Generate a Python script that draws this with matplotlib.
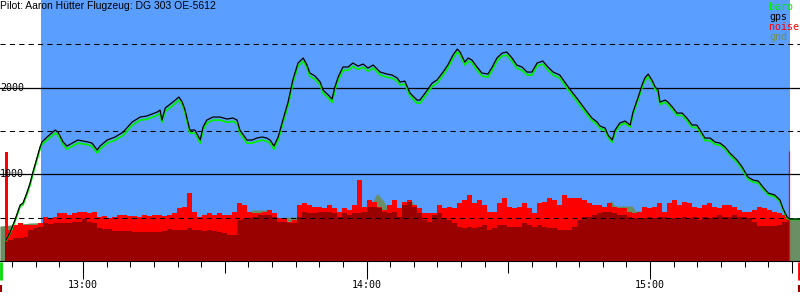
import numpy as np
import matplotlib
matplotlib.use("Agg")
from matplotlib import pyplot as plt
from matplotlib.ticker import MultipleLocator, FuncFormatter, NullFormatter
import matplotlib.transforms as mtransforms

title = "Pilot: Aaron Hütter Flugzeug: DG 303 OE-5612"

# alle Zeiten in Minuten nach 12:00
x_range = (42.43, 211.74)
alt_top = 3010
hour_marks = [60, 120, 180]

gps_t = [
    43.7, 44.6, 45.6, 46.7, 47.3, 48.1, 48.8, 49.4, 50.3, 50.9,
    51.3, 52.4, 54.1, 54.7, 55.8, 56.6, 58.9, 61.1, 61.9, 63.0,
    63.6, 65.1, 66.8, 68.5, 70.4, 72.1, 73.5, 75.7, 76.3, 76.7,
    77.4, 79.0, 80.3, 81.0, 81.6, 82.2, 82.6, 83.7, 84.8, 85.4,
    86.2, 87.5, 89.0, 90.5, 91.7, 92.6, 93.2, 94.7, 95.8, 96.8,
    97.9, 98.9, 99.6, 100.4, 101.3, 102.3, 103.4, 104.4, 105.5, 106.6,
    107.4, 108.0, 109.1, 110.2, 110.8, 111.9, 112.7, 113.3, 114.0, 115.0,
    116.1, 117.1, 118.2, 119.3, 120.3, 121.4, 122.9, 124.3, 125.4, 126.5,
    127.1, 128.1, 129.2, 130.7, 131.3, 132.4, 133.9, 134.9, 136.2, 137.2,
    138.3, 139.2, 139.8, 140.8, 141.5, 142.3, 143.4, 144.4, 145.7, 146.6,
    147.6, 148.7, 149.7, 150.8, 151.8, 152.9, 154.0, 155.0, 156.1, 157.3,
    158.4, 159.5, 160.9, 162.4, 163.5, 164.5, 165.6, 166.7, 167.7, 168.8,
    169.4, 170.5, 171.1, 172.0, 172.6, 173.6, 174.7, 175.8, 176.4, 177.5,
    178.3, 178.9, 179.6, 180.4, 181.1, 181.7, 182.1, 183.2, 183.8, 184.9,
    185.7, 186.8, 187.8, 188.9, 189.9, 190.6, 191.6, 192.7, 193.8, 194.8,
    195.9, 196.9, 198.4, 199.5, 200.7, 201.8, 202.9, 203.9, 205.0, 206.4,
    207.5, 208.1, 209.0, 209.6, 211.7,
]
gps_alt = [
    242, 334, 473, 646, 669, 784, 899, 1026, 1199, 1314,
    1372, 1430, 1510, 1487, 1372, 1326, 1395, 1372, 1360, 1280,
    1326, 1395, 1430, 1487, 1603, 1660, 1672, 1718, 1741, 1626,
    1764, 1833, 1891, 1833, 1741, 1603, 1510, 1510, 1395, 1545,
    1626, 1660, 1660, 1637, 1649, 1626, 1510, 1395, 1395, 1418,
    1430, 1418, 1395, 1326, 1430, 1626, 1833, 2087, 2283, 2341,
    2260, 2168, 2133, 2064, 1972, 1914, 1868, 2006, 2122, 2237,
    2237, 2283, 2248, 2271, 2225, 2260, 2179, 2156, 2145, 2110,
    2064, 2075, 1937, 1856, 1856, 1937, 2052, 2087, 2179, 2260,
    2375, 2444, 2410, 2294, 2341, 2318, 2237, 2168, 2156, 2237,
    2341, 2398, 2410, 2341, 2260, 2237, 2179, 2179, 2283, 2306,
    2237, 2179, 2145, 2029, 1949, 1879, 1799, 1718, 1649, 1603,
    1557, 1533, 1453, 1395, 1510, 1591, 1614, 1568, 1718, 1891,
    2029, 2110, 2156, 2087, 2006, 1972, 1833, 1856, 1833, 1764,
    1706, 1706, 1649, 1568, 1568, 1510, 1418, 1418, 1372, 1360,
    1314, 1245, 1165, 1084, 969, 934, 922, 853, 784, 761,
    703, 611, 507, 484, 484,
]
baro_alt = [
    240, 325, 460, 630, 650, 765, 880, 1005, 1175, 1290,
    1345, 1395, 1475, 1455, 1340, 1290, 1360, 1340, 1325, 1245,
    1290, 1360, 1395, 1450, 1565, 1625, 1635, 1680, 1705, 1600,
    1725, 1795, 1855, 1800, 1705, 1570, 1475, 1475, 1360, 1510,
    1590, 1625, 1625, 1600, 1610, 1590, 1475, 1360, 1360, 1380,
    1395, 1380, 1360, 1290, 1395, 1590, 1795, 2050, 2245, 2305,
    2225, 2130, 2095, 2030, 1935, 1880, 1830, 1970, 2085, 2200,
    2200, 2245, 2210, 2235, 2190, 2225, 2145, 2120, 2110, 2075,
    2030, 2040, 1905, 1820, 1820, 1900, 2015, 2050, 2145, 2225,
    2340, 2410, 2375, 2260, 2305, 2285, 2200, 2135, 2120, 2200,
    2305, 2365, 2375, 2305, 2225, 2200, 2145, 2145, 2250, 2270,
    2200, 2145, 2110, 1995, 1915, 1845, 1765, 1685, 1620, 1575,
    1530, 1505, 1425, 1370, 1480, 1565, 1590, 1545, 1690, 1865,
    2000, 2080, 2125, 2060, 1980, 1945, 1805, 1830, 1805, 1735,
    1680, 1680, 1620, 1540, 1540, 1485, 1390, 1390, 1345, 1335,
    1290, 1220, 1140, 1060, 945, 910, 900, 830, 765, 740,
    685, 595, 495, 480, 480,
]

gnd_t = [42.4, 48.8, 63.6, 84.8, 94.3, 95.8, 98.9, 100.6, 112.3, 120.7,
         122.2, 123.5, 125.0, 128.1, 129.6, 131.3, 133.0, 134.7, 148.2, 165.2,
         170.5, 171.7, 172.6, 176.2, 177.0, 179.6, 180.4, 190.6, 203.3, 209.2,
         211.7]
gnd_alt = [403, 438, 460, 470, 520, 588, 588, 500, 520, 620,
           780, 700, 560, 640, 692, 560, 553, 480, 470, 500,
           560, 703, 634, 634, 576, 576, 520, 520, 480, 484,
           484]

# Geräusch-Werte, eine Probe etwa jede Minute
noise_t0 = 43.49
noise_dt = 1.058
noise_hi = [
    1257, 357, 415, 434, 415, 415, 415, 434, 511, 492,
    503, 549, 549, 530, 549, 568, 568, 549, 568, 511,
    518, 492, 511, 530, 530, 518, 518, 511, 530, 518,
    530, 530, 518, 530, 549, 607, 626, 780, 568, 511,
    530, 549, 530, 549, 530, 530, 568, 664, 645, 568,
    549, 549, 568, 588, 549, 492, 480, 453, 472, 645,
    664, 645, 626, 626, 607, 645, 607, 568, 607, 588,
    645, 930, 626, 703, 684, 626, 588, 645, 703, 607,
    684, 703, 645, 607, 549, 549, 549, 645, 607, 626,
    607, 664, 703, 760, 664, 703, 645, 568, 568, 664,
    722, 626, 607, 626, 664, 607, 549, 664, 684, 722,
    703, 645, 760, 722, 722, 722, 703, 664, 645, 645,
    626, 664, 626, 607, 607, 568, 549, 568, 626, 607,
    626, 664, 568, 664, 703, 645, 684, 664, 626, 607,
    645, 664, 626, 607, 645, 645, 626, 588, 568, 568,
    588, 626, 607, 588, 568, 549, 530, 480,
]
noise_lo = [
    223, 242, 261, 261, 280, 357, 376, 396, 434, 426,
    434, 434, 442, 434, 453, 453, 480, 453, 434, 376,
    365, 365, 349, 349, 349, 349, 338, 338, 338, 338,
    338, 338, 349, 365, 357, 357, 357, 376, 357, 357,
    349, 357, 349, 338, 326, 300, 300, 472, 480, 492,
    511, 530, 530, 530, 511, 453, 453, 442, 434, 511,
    568, 549, 549, 568, 568, 568, 549, 511, 549, 530,
    549, 549, 568, 626, 626, 607, 568, 549, 568, 511,
    645, 684, 626, 549, 472, 453, 530, 549, 492, 472,
    434, 396, 376, 396, 376, 396, 415, 357, 376, 415,
    415, 396, 396, 396, 434, 415, 396, 415, 396, 376,
    376, 357, 357, 357, 396, 472, 511, 511, 530, 549,
    568, 568, 549, 530, 530, 511, 492, 492, 492, 511,
    492, 511, 511, 492, 492, 492, 511, 492, 511, 472,
    511, 492, 511, 530, 511, 511, 530, 511, 511, 492,
    450, 400, 400, 400, 400, 420, 450, 472,
]

flight_start, flight_end = 51.1, 209.6
landing_t, landing_noise = 209.4, 1268
log_start, log_end = 42.6, 211.5

solid_levels = [1000, 2000]
dashed_levels = [500, 1500, 2500]

legend_items = [("baro", "#00ee00"), ("gps", "black"),
                ("noise", "#ff0000"), ("gnd", "#6b8f64")]

sky = "#5a9eff"
gnd_color = "#6b8f64"
dark_red = "#990000"
mono = "DejaVu Sans Mono"

fig = plt.figure(figsize=(8, 3), dpi=100)
ax = fig.add_axes([0, 39 / 300, 1, 261 / 300])
ax.set_xlim(*x_range)
ax.set_ylim(0, alt_top)

ax.axvspan(flight_start, flight_end, color=sky, lw=0, zorder=0)
ax.fill_between(gnd_t, gnd_alt, color=gnd_color, lw=0, zorder=1)

noise_t = noise_t0 + noise_dt * np.arange(len(noise_hi))
ax.fill_between(noise_t, noise_hi, step="mid", color="red", lw=0, zorder=2)
ax.fill_between(noise_t, noise_lo, step="mid", color=dark_red, lw=0, zorder=3)
ax.vlines(landing_t, 0, landing_noise, color="red", lw=0.9, zorder=3)

for level in dashed_levels:
    ax.axhline(level, color="black", lw=0.75, ls=(0, (5, 4)), zorder=4)
for level in solid_levels:
    ax.axhline(level, color="black", lw=0.9, zorder=4)
    ax.text(0.0, level, str(level), transform=ax.get_yaxis_transform(),
            ha="left", va="center", fontsize=7.2, family=mono, zorder=7)

ax.plot(gps_t, baro_alt, color="#00ee00", lw=1.3, zorder=5)
ax.plot(gps_t, gps_alt, color="black", lw=0.9, zorder=6)

# Achsen
for side in ["top", "left", "right"]:
    ax.spines[side].set_visible(False)
ax.spines["bottom"].set_linewidth(0.8)
ax.set_yticks([])
ax.xaxis.set_major_locator(MultipleLocator(30))
ax.xaxis.set_minor_locator(MultipleLocator(5))
ax.xaxis.set_major_formatter(NullFormatter())
ax.tick_params(axis="x", which="major", length=8.6, width=0.75, direction="out")
ax.tick_params(axis="x", which="minor", length=4.3, width=0.75, direction="out")

sec = ax.secondary_xaxis("bottom")
sec.set_xticks(hour_marks)
sec.xaxis.set_major_formatter(FuncFormatter(lambda m, _: f"{12 + int(m // 60)}:{int(m % 60):02d}"))
sec.tick_params(axis="x", length=13, width=0.75, pad=1, labelsize=7.2)
for lbl in sec.get_xticklabels():
    lbl.set_family(mono)
sec.spines["bottom"].set_visible(False)

# Start-/Endmarken unter der Achse
trans = mtransforms.blended_transform_factory(ax.transData, ax.transAxes)
ax.plot([log_start, log_start], [-0.004, -0.073], color="#00dd00", lw=2.0,
        transform=trans, clip_on=False, solid_capstyle="butt")
ax.plot([log_end, log_end], [-0.004, -0.073], color="red", lw=2.0,
        transform=trans, clip_on=False, solid_capstyle="butt")
for t in [log_start, log_end]:
    ax.plot([t, t], [-0.092, -0.119], color=dark_red, lw=1.5,
            transform=trans, clip_on=False, solid_capstyle="butt")

fig.text(0.0, 1 - 6 / 300, title, ha="left", va="center", fontsize=7.5,
         family="Liberation Sans")
for i, (name, color) in enumerate(legend_items):
    fig.text(769 / 800, 1 - (7 + 10 * i) / 300, name, ha="left", va="center",
             fontsize=7.2, family=mono, color=color)

fig.savefig("out.png", dpi=100)
